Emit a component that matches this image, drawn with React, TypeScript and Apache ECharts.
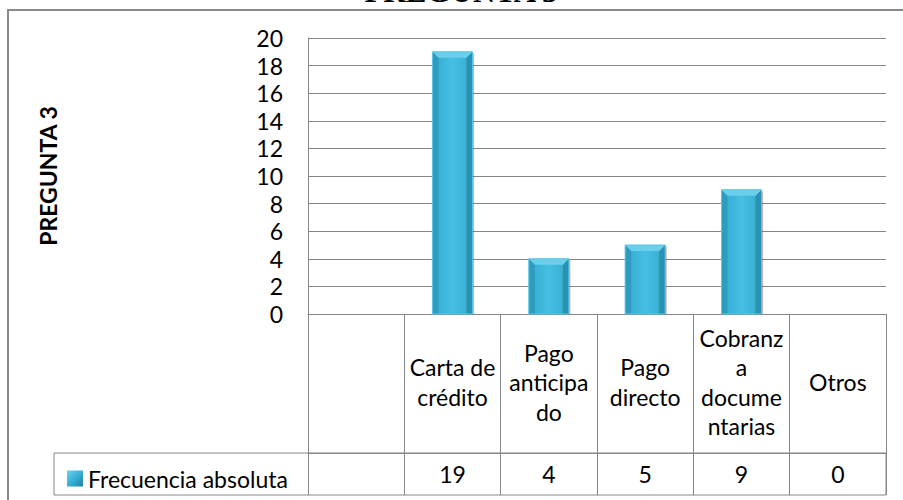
import React, { useEffect, useRef } from "react";
import * as echarts from "echarts";

const categories = ["", "Carta de crédito", "Pago anticipado", "Pago directo", "Cobranza documentarias", "Otros"];
const categoryLabels = ["", "Carta de\ncrédito", "Pago\nanticipa\ndo", "Pago\ndirecto", "Cobranz\na\ndocume\nntarias", "Otros"];
const frecuencia: (number | null)[] = [null, 19, 4, 5, 9, 0];
const seriesName = "Frecuencia absoluta";
const chartTitle = "PREGUNTA 3";
const axisTitle = "PREGUNTA 3";
const yMin = 0;
const yMax = 20;
const yStep = 2;

const FONT = "Lato";
const LINE = "#868686";
const FS = 23;
const BAR_W = 40;

export default function App() {
  const ref = useRef<HTMLDivElement>(null);
  useEffect(() => {
    if (!ref.current) return;
    const chart = echarts.init(ref.current, undefined, { renderer: "svg" });
    const bodyGrad = () =>
      new echarts.graphic.LinearGradient(0, 0, 1, 0, [
        { offset: 0, color: "#35a9ce" },
        { offset: 0.5, color: "#45bfe3" },
        { offset: 1, color: "#35a9ce" },
      ]);
    const legendColor = new echarts.graphic.LinearGradient(0, 0, 1, 1, [
      { offset: 0, color: "#6fd2ee" },
      { offset: 0.5, color: "#38b0d6" },
      { offset: 1, color: "#1f7f9f" },
    ]);
    const renderBar = (_params: any, api: any) => {
      const i = api.value(0);
      const v = api.value(1);
      if (v == null || isNaN(v) || v <= 0) return null;
      const top = api.coord([i, v]);
      const base = api.coord([i, 0]);
      const w = BAR_W;
      const x = top[0] - w / 2;
      const y = top[1];
      const h = base[1] - top[1];
      const b = Math.min(6, h / 2);
      return {
        type: "group",
        children: [
          { type: "rect", shape: { x: x + 1.5, y: y + 1.5, width: w, height: h - 1.5 }, style: { fill: "rgba(0,0,0,0.28)" } },
          { type: "rect", shape: { x, y, width: w, height: h }, style: { fill: bodyGrad() } },
          {
            type: "polygon",
            shape: { points: [[x, y], [x + b, y + b], [x + b, y + h], [x, y + h]] },
            style: { fill: "#2e9bc0" },
          },
          {
            type: "polygon",
            shape: { points: [[x + w, y], [x + w, y + h], [x + w - b, y + h], [x + w - b, y + b]] },
            style: { fill: "#2b91b4" },
          },
          {
            type: "polygon",
            shape: { points: [[x, y], [x + w, y], [x + w - b, y + b], [x + b, y + b]] },
            style: { fill: "#6acfeb" },
          },
          { type: "rect", shape: { x, y, width: w, height: h }, style: { fill: "none", stroke: "#5ac5e4", lineWidth: 1 } },
        ],
      };
    };
    chart.setOption({
      animation: false,
      textStyle: { fontFamily: FONT },
      grid: { left: 308, top: 38, right: 17, bottom: 186, containLabel: false },
      legend: {
        show: true,
        data: [seriesName],
        left: 62,
        top: 462,
        icon: "rect",
        itemWidth: 16,
        itemHeight: 16,
        itemGap: 6,
        textStyle: { fontSize: FS, color: "#000", fontFamily: FONT },
      },
      xAxis: [
        {
          type: "category",
          data: categories,
          position: "bottom",
          boundaryGap: true,
          axisLine: { show: true, lineStyle: { color: LINE, width: 1 } },
          axisTick: { show: true, interval: 0, length: 139, lineStyle: { color: LINE, width: 1 } },
          axisLabel: {
            interval: 0,
            fontSize: FS,
            lineHeight: 29.5,
            color: "#000",
            margin: 68,
            verticalAlign: "middle",
            align: "center",
            fontFamily: FONT,
            formatter: (_v: string, i: number) => categoryLabels[i],
          },
          splitLine: { show: false },
        },
        {
          type: "category",
          data: categories,
          position: "bottom",
          offset: 139,
          boundaryGap: true,
          axisLine: { show: true, lineStyle: { color: LINE, width: 1 } },
          axisTick: { show: true, interval: 0, length: 42, lineStyle: { color: LINE, width: 1 } },
          axisLabel: {
            interval: 0,
            fontSize: FS,
            color: "#000",
            margin: 21,
            verticalAlign: "middle",
            align: "center",
            fontFamily: FONT,
            formatter: (_v: string, i: number) => (frecuencia[i] == null ? "" : String(frecuencia[i])),
          },
          splitLine: { show: false },
        },
      ],
      yAxis: {
        type: "value",
        min: yMin,
        max: yMax,
        interval: yStep,
        name: axisTitle,
        nameLocation: "middle",
        nameRotate: 90,
        nameGap: 249,
        nameTextStyle: { fontWeight: "bold", fontSize: FS, color: "#000", fontFamily: FONT },
        axisLine: { show: true, lineStyle: { color: LINE, width: 1 } },
        axisTick: { show: false },
        axisLabel: { fontSize: FS, color: "#000", margin: 25, fontFamily: FONT },
        splitLine: { show: true, lineStyle: { color: LINE, width: 1 } },
      },
      series: [
        {
          type: "custom",
          name: seriesName,
          xAxisIndex: 0,
          yAxisIndex: 0,
          data: frecuencia.map((v, i) => [i, v]),
          encode: { x: 0, y: 1 },
          itemStyle: { color: legendColor },
          renderItem: renderBar,
          z: 3,
        },
      ],
      graphic: [
        {
          type: "rect",
          shape: { x: 8, y: 10, width: 1000, height: 600 },
          style: { fill: "none", stroke: "#8a8a8a", lineWidth: 2 },
          silent: true,
        },
        {
          type: "rect",
          shape: { x: 54, y: 453, width: 832, height: 42 },
          style: { fill: "none", stroke: LINE, lineWidth: 1 },
          silent: true,
        },
        {
          type: "text",
          x: 461,
          y: -9,
          style: {
            text: chartTitle,
            fill: "#000",
            font: 'bold 31px "Liberation Serif"',
            textAlign: "center",
            textVerticalAlign: "middle",
          },
          silent: true,
        },
      ],
    });
    return () => chart.dispose();
  }, []);
  return <div ref={ref} style={{ position: "absolute", left: 0, top: 0, width: 903, height: 500 }} />;
}
